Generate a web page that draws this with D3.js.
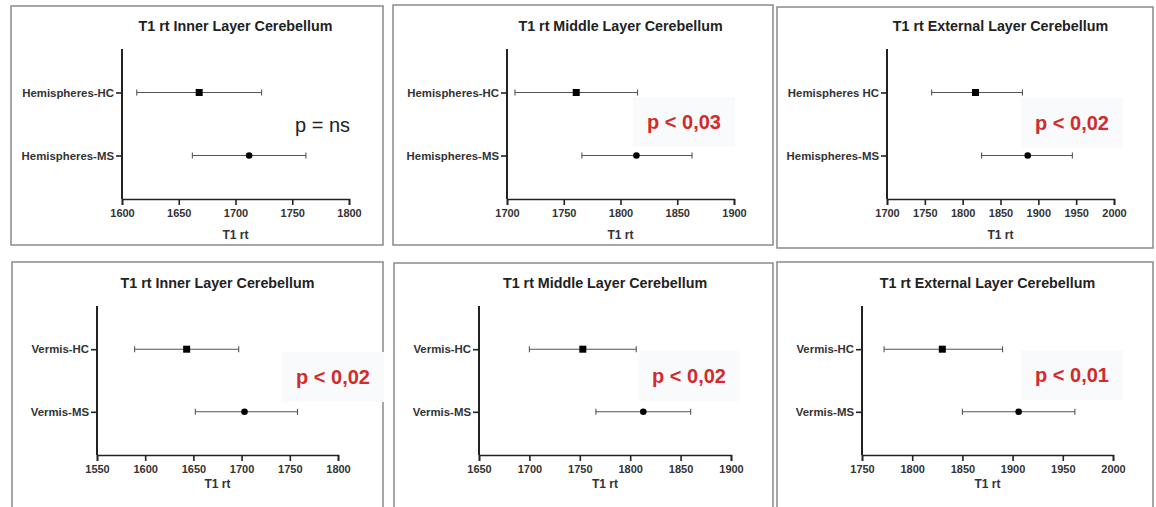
<!DOCTYPE html>
<html lang="en">
<head>
    <meta charset="UTF-8">
    <title>T1 rt Cerebellum</title>
    <script src="https://d3js.org/d3.v7.min.js"></script>
    <style>
        body { margin: 0; background: #fff; font-family: "Liberation Sans", Arial, sans-serif; }
        .frame { fill: none; stroke: #8a8a8a; stroke-width: 1.5; }
        .title { font-size: 14.3px; font-weight: bold; fill: #222; }
        .axis path, .axis line { stroke: #222; stroke-width: 1.6; }
        .axis text { font-size: 11px; font-weight: bold; fill: #333; font-family: "Liberation Sans", Arial, sans-serif; }
        .cat text { font-size: 11.4px; }
        .cat path { stroke-width: 2; }
        .err { stroke: #555; stroke-width: 1.1; }
        .xlabel { font-size: 12px; font-weight: bold; fill: #333; }
    </style>
</head>
<body>
<svg id="chart" width="1156" height="507"></svg>
<script>
    // Data
    const titles = [
        "T1 rt Inner Layer Cerebellum", "T1 rt Middle Layer Cerebellum", "T1 rt External Layer Cerebellum",
        "T1 rt Inner Layer Cerebellum", "T1 rt Middle Layer Cerebellum", "T1 rt External Layer Cerebellum"
    ];
    const categories = [
        ["Hemispheres-HC", "Hemispheres-MS"],
        ["Hemispheres-HC", "Hemispheres-MS"],
        ["Hemispheres HC", "Hemispheres-MS"],
        ["Vermis-HC", "Vermis-MS"],
        ["Vermis-HC", "Vermis-MS"],
        ["Vermis-HC", "Vermis-MS"]
    ];
    const pLabels = ["p = ns", "p < 0,03", "p < 0,02", "p < 0,02", "p < 0,02", "p < 0,01"];
    const xDomains = [[1600, 1800], [1700, 1900], [1700, 2000], [1550, 1800], [1650, 1900], [1750, 2000]];
    const xTickStep = 50;
    const xLabel = "T1 rt";

    const hcMean = [1668, 1761, 1817, 1643, 1753, 1830];
    const hcLow  = [1613, 1707, 1759, 1589, 1700, 1772];
    const hcHigh = [1723, 1815, 1879, 1697, 1806, 1890];
    const msMean = [1712, 1814, 1886, 1703, 1813, 1906];
    const msLow  = [1662, 1766, 1825, 1652, 1766, 1850];
    const msHigh = [1762, 1863, 1945, 1758, 1860, 1962];

    // Layout of the six panels
    const frames = [
        [11, 6, 372, 239], [393, 5, 380, 240], [777, 7, 376, 241],
        [12, 262, 371, 260], [394, 263, 379, 260], [777, 262, 376, 260]
    ];
    const plots = [
        [122, 49, 349, 199], [507, 49, 734, 199], [887, 49, 1114, 199],
        [97, 306, 338, 455], [479, 306, 731, 455], [862, 306, 1113, 455]
    ];
    const pPos = [[295, 132], [647, 129], [1035, 130], [296, 384], [652, 383], [1035, 382]];
    const xLabelOffset = [40, 40, 40, 33, 33, 33];

    const svg = d3.select("#chart");

    titles.forEach((title, i) => {
        const [fx, fy, fw, fh] = frames[i];
        const [x0, y0, x1, y1] = plots[i];
        const g = svg.append("g");

        g.append("rect").attr("class", "frame")
            .attr("x", fx).attr("y", fy).attr("width", fw).attr("height", fh);

        const x = d3.scaleLinear().domain(xDomains[i]).range([x0, x1]);
        const y = d3.scalePoint().domain(categories[i]).range([y0, y1]).padding(0.69);

        // title
        g.append("text").attr("class", "title")
            .attr("x", (x0 + x1) / 2).attr("y", y0 - 18)
            .attr("text-anchor", "middle").text(title);

        // x axis
        const ticks = d3.range(xDomains[i][0], xDomains[i][1] + 1, xTickStep);
        g.append("g").attr("class", "axis")
            .attr("transform", `translate(0,${y1})`)
            .call(d3.axisBottom(x).tickValues(ticks).tickFormat(d3.format("d")).tickSizeOuter(0).tickSize(6).tickPadding(4));

        // y axis
        g.append("g").attr("class", "axis cat")
            .attr("transform", `translate(${x0},0)`)
            .call(d3.axisLeft(y).tickSize(6).tickPadding(2))
            .call(a => a.select(".domain").attr("d", `M0,${y0}V${y1}`));

        g.append("text").attr("class", "xlabel")
            .attr("x", (x0 + x1) / 2).attr("y", y1 + xLabelOffset[i])
            .attr("text-anchor", "middle").text(xLabel);

        // error bars
        const rows = [
            { cat: categories[i][0], mean: hcMean[i], lo: hcLow[i], hi: hcHigh[i], shape: "square" },
            { cat: categories[i][1], mean: msMean[i], lo: msLow[i], hi: msHigh[i], shape: "circle" }
        ];
        rows.forEach(r => {
            const cy = y(r.cat);
            g.append("line").attr("class", "err")
                .attr("x1", x(r.lo)).attr("x2", x(r.hi)).attr("y1", cy).attr("y2", cy);
            [r.lo, r.hi].forEach(v => {
                g.append("line").attr("class", "err")
                    .attr("x1", x(v)).attr("x2", x(v)).attr("y1", cy - 3).attr("y2", cy + 3);
            });
            if (r.shape === "square") {
                g.append("rect").attr("x", x(r.mean) - 3.5).attr("y", cy - 3.5)
                    .attr("width", 7).attr("height", 7).attr("fill", "#000");
            } else {
                g.append("circle").attr("cx", x(r.mean)).attr("cy", cy).attr("r", 3.3).attr("fill", "#000");
            }
        });

        // p value (faint pasted-in background behind the significant ones)
        const [px, py] = pPos[i];
        const sig = pLabels[i] !== "p = ns";
        if (sig) {
            g.append("rect").attr("x", px - 14).attr("y", py - 32)
                .attr("width", 102).attr("height", 50).attr("fill", "#f9fafc");
        }
        g.append("text")
            .attr("x", px).attr("y", py)
            .attr("font-size", "20px")
            .attr("font-weight", sig ? "bold" : "normal")
            .attr("fill", sig ? "#d32b2b" : "#222")
            .text(pLabels[i]);
    });
</script>
</body>
</html>
